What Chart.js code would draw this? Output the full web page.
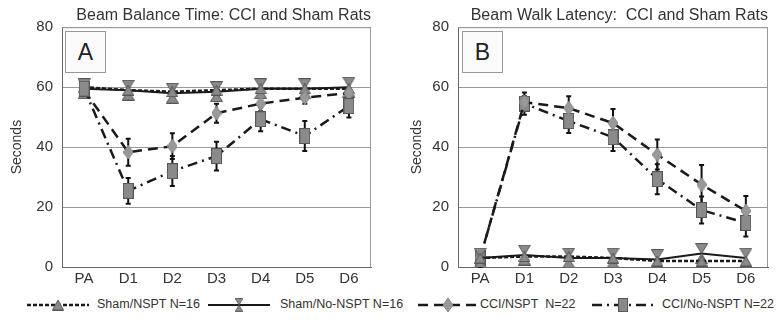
<!DOCTYPE html>
<html>
<head>
<meta charset="utf-8">
<script src="https://cdn.jsdelivr.net/npm/chart.js@4"></script>
<style>
  body { margin: 0; background: #fff; width: 779px; height: 320px; position: relative; overflow: hidden;
         font-family: "Liberation Sans", Arial, sans-serif; color: #333; }
  .panel { position: absolute; top: 0; height: 290px; }
  #wrapA { left: 0; width: 385px; }
  #wrapB { left: 390px; width: 389px; }
  .tag { position: absolute; top: 31px; width: 39px; height: 40px; border: 1px solid #999; background: #fbfbfb;
         font-size: 23px; line-height: 41px; text-align: center; color: #222; }
  .leg { position: absolute; top: 296px; font-size: 12.5px; color: #333; white-space: nowrap; line-height: 16px; }
  .legline { position: absolute; top: 296px; }
</style>
</head>
<body>
<div class="panel" id="wrapA"><canvas id="chartA"></canvas></div>
<div class="panel" id="wrapB"><canvas id="chartB"></canvas></div>
<div class="tag" style="left:65px">A</div>
<div class="tag" style="left:462px">B</div>

<canvas class="legline" id="lg0" width="62" height="16" style="left:27px"></canvas>
<div class="leg" style="left:97px">Sham/NSPT N=16</div>
<canvas class="legline" id="lg1" width="62" height="16" style="left:208px"></canvas>
<div class="leg" style="left:280px">Sham/No-NSPT N=16</div>
<canvas class="legline" id="lg2" width="60" height="16" style="left:418px"></canvas>
<div class="leg" style="left:480px">CCI/NSPT&nbsp; N=22</div>
<canvas class="legline" id="lg3" width="62" height="16" style="left:592px"></canvas>
<div class="leg" style="left:662px">CCI/No-NSPT N=22</div>

<script>
// ── Data ──
const days = ['PA', 'D1', 'D2', 'D3', 'D4', 'D5', 'D6'];
const yTicks = [0, 20, 40, 60, 80];
const seriesNames = ['Sham/NSPT N=16', 'Sham/No-NSPT N=16', 'CCI/NSPT  N=22', 'CCI/No-NSPT N=22'];

// Panel A: Beam Balance Time
const shamNsptA     = [60, 59, 58.5, 59, 59.5, 59.5, 59.5];
const shamNoNsptA   = [59.5, 59, 58, 58.5, 59.5, 59.5, 60];
const cciNsptA      = [59, 38.3, 40.3, 51.3, 54.5, 56.5, 58];
const cciNoNsptA    = [59.5, 25.4, 32, 37, 49.3, 43.7, 53.7];
const cciNsptSemA   = [0.8, 4.5, 4.3, 3.2, 2.5, 2, 1];
const cciNoNsptSemA = [1, 4.3, 5, 4.8, 4, 5, 3.8];

// Panel B: Beam Walk Latency
const shamNsptB     = [3, 3.5, 3.5, 3, 2, 2, 2];
const shamNoNsptB   = [3, 4, 3, 3, 2.5, 4.5, 3];
const cciNsptB      = [3, 55, 53, 48, 37.5, 27.5, 18.7];
const cciNoNsptB    = [3, 54.5, 48.7, 43.3, 29.3, 19, 14.7];
const cciNsptSemB   = [1, 2, 4, 4.7, 5, 6.5, 5];
const cciNoNsptSemB = [3, 3.7, 4, 4.6, 5, 4.5, 4.5];

// ── Marker images ──
function marker(w, h, draw) {
  const c = document.createElement('canvas');
  c.width = w; c.height = h;
  const g = c.getContext('2d');
  g.fillStyle = '#8a8a8a';
  g.strokeStyle = '#555';
  g.lineWidth = 1;
  draw(g, w, h);
  return c;
}
const triMark = marker(12, 11, (g, w, h) => {
  g.beginPath(); g.moveTo(w / 2, 0.5); g.lineTo(w - 0.5, h - 0.5); g.lineTo(0.5, h - 0.5); g.closePath();
  g.fill(); g.stroke();
});
const hourMark = marker(13, 21, (g, w, h) => {
  g.beginPath(); g.moveTo(0.5, 0.5); g.lineTo(w - 0.5, 0.5); g.lineTo(w / 2, h / 2); g.closePath();
  g.moveTo(w / 2, h / 2); g.lineTo(w - 0.5, h - 0.5); g.lineTo(0.5, h - 0.5); g.closePath();
  g.fill(); g.stroke();
});
const sqMark = marker(11, 16, (g, w, h) => {
  g.fillRect(0.5, 0.5, w - 1, h - 1); g.strokeRect(0.5, 0.5, w - 1, h - 1);
});
const diaMark = marker(10, 14, (g, w, h) => {
  g.fillStyle = '#999'; g.strokeStyle = '#888';
  g.beginPath(); g.moveTo(w / 2, 0); g.lineTo(w, h / 2); g.lineTo(w / 2, h); g.lineTo(0, h / 2); g.closePath();
  g.fill(); g.stroke();
});

const styles = [
  { dash: [4, 2], width: 2.5, mark: triMark },
  { dash: [], width: 2, mark: hourMark },
  { dash: [10, 6], width: 2.5, mark: diaMark },
  { dash: [10, 5, 2, 5], width: 2.5, mark: sqMark },
];

// ── Error bars + plot frame ──
const errorBars = {
  id: 'errorBars',
  beforeDatasetsDraw(chart) {
    const { ctx, chartArea: a } = chart;
    const y = chart.scales.y;
    ctx.save();
    ctx.strokeStyle = '#999';
    ctx.lineWidth = 1;
    ctx.beginPath();
    ctx.moveTo(a.left, a.top + 0.5); ctx.lineTo(a.right - 0.5, a.top + 0.5); ctx.lineTo(a.right - 0.5, a.bottom);
    ctx.stroke();
    chart.data.datasets.forEach((ds, i) => {
      if (!ds.sem) return;
      chart.getDatasetMeta(i).data.forEach((pt, j) => {
        const e = ds.sem[j];
        if (!e) return;
        const top = y.getPixelForValue(ds.data[j] + e);
        const bot = y.getPixelForValue(ds.data[j] - e);
        ctx.strokeStyle = '#111';
        ctx.lineWidth = 2;
        ctx.beginPath();
        ctx.moveTo(pt.x, top); ctx.lineTo(pt.x, bot);
        ctx.moveTo(pt.x - 2.5, top); ctx.lineTo(pt.x + 2.5, top);
        ctx.moveTo(pt.x - 2.5, bot); ctx.lineTo(pt.x + 2.5, bot);
        ctx.stroke();
      });
    });
    ctx.restore();
  }
};

function ds(k, data, sem) {
  const s = styles[k];
  return {
    label: seriesNames[k], data, sem,
    borderColor: '#1a1a1a', borderWidth: s.width, borderDash: s.dash,
    pointStyle: s.mark, pointRadius: 6, tension: 0, fill: false,
  };
}

const FONT = '"Liberation Sans", Arial, sans-serif';

function makeChart(id, title, datasets, yWidth, yTitlePad, padRight) {
  return new Chart(document.getElementById(id), {
    type: 'line',
    data: { labels: days, datasets },
    plugins: [errorBars],
    options: {
      responsive: true,
      maintainAspectRatio: false,
      animation: false,
      layout: { padding: { left: 0, right: padRight, top: 0, bottom: 0 } },
      plugins: {
        legend: { display: false },
        tooltip: { enabled: false },
        title: {
          display: true, text: title, align: 'end', color: '#333',
          font: { size: 16, weight: 'normal', family: FONT },
          padding: { top: 6, bottom: 2 },
        },
      },
      scales: {
        x: {
          offset: true,
          grid: { display: false, drawTicks: false },
          border: { color: '#666', width: 1 },
          ticks: { color: '#333', padding: 3, font: { size: 15, family: FONT } },
          afterFit: s => { s.height = 23; },
        },
        y: {
          min: 0, max: 80,
          afterBuildTicks: s => { s.ticks = yTicks.map(v => ({ value: v })); },
          grid: { color: '#999', drawTicks: false },
          border: { color: '#666', width: 1 },
          ticks: { color: '#333', padding: 9, font: { size: 15, family: FONT } },
          title: {
            display: true, text: 'Seconds', color: '#333',
            font: { size: 14, family: FONT },
            padding: { top: yTitlePad, bottom: 0 },
          },
          afterFit: s => { s.width = yWidth; },
        },
      },
    },
  });
}

makeChart('chartA', 'Beam Balance Time: CCI and Sham Rats', [
  ds(3, cciNoNsptA, cciNoNsptSemA),
  ds(2, cciNsptA, cciNsptSemA),
  ds(0, shamNsptA),
  ds(1, shamNoNsptA),
], 62, 9, 14);

makeChart('chartB', 'Beam Walk Latency:  CCI and Sham Rats', [
  ds(0, shamNsptB),
  ds(1, shamNoNsptB),
  ds(2, cciNsptB, cciNsptSemB),
  ds(3, cciNoNsptB, cciNoNsptSemB),
], 68, 19, 11);

// ── Legend samples ──
styles.forEach((s, i) => {
  const c = document.getElementById('lg' + i);
  const g = c.getContext('2d');
  g.strokeStyle = '#1a1a1a';
  g.lineWidth = s.width;
  g.setLineDash(s.dash);
  g.beginPath(); g.moveTo(0, 9); g.lineTo(c.width, 9); g.stroke();
  const m = s.mark;
  const scale = Math.min(1, 14 / m.height);
  const w = m.width * scale, h = m.height * scale;
  g.drawImage(m, c.width / 2 - w / 2, 9 - h / 2, w, h);
});
</script>
</body>
</html>
